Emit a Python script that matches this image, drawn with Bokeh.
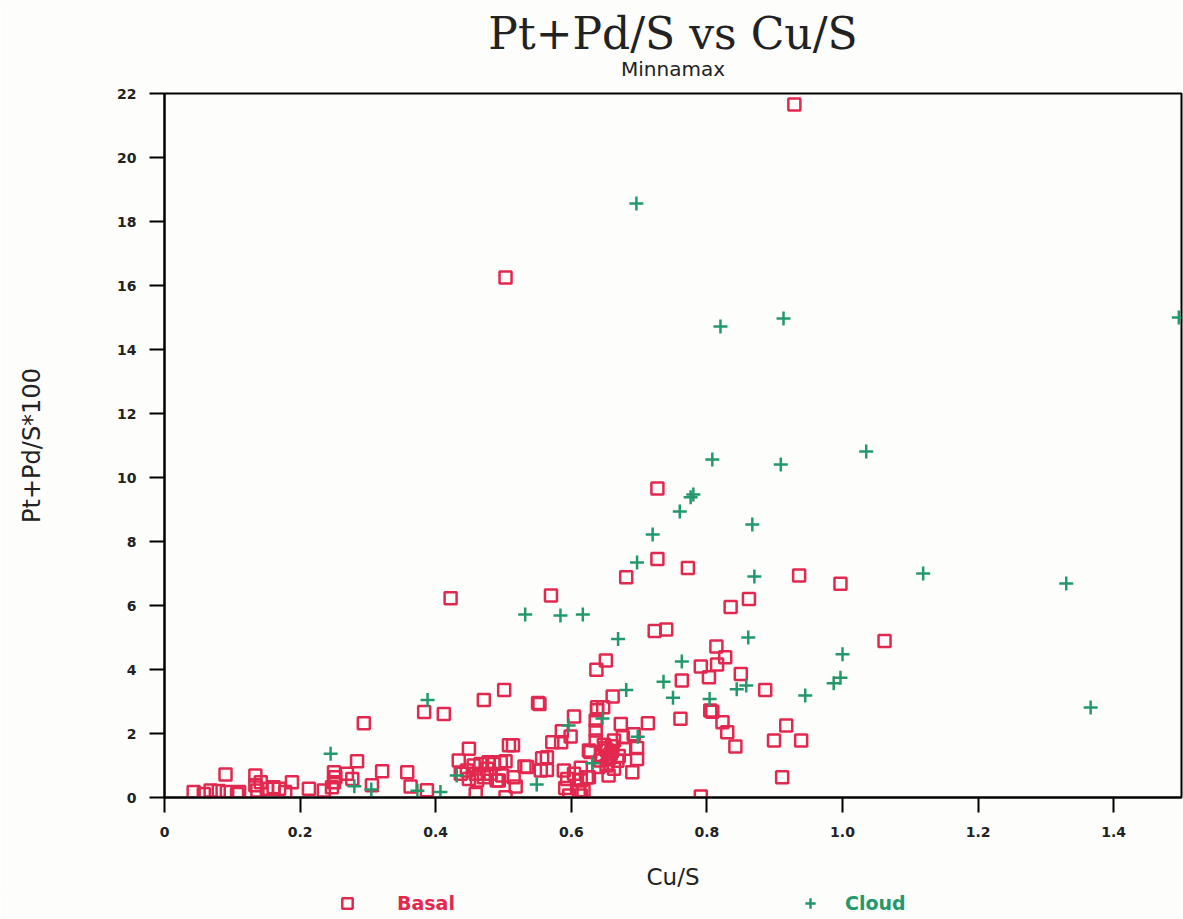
from bokeh.plotting import figure
from bokeh.layouts import column
from bokeh.models import (Title, Legend, LegendItem, CustomJSTickFormatter,
                          FixedTicker, Range1d)
from bokeh.embed import file_html
from bokeh.resources import INLINE

# ---------------- data ----------------
basal_x = [0.929, 0.503, 0.727, 0.727, 0.772, 0.681, 0.936, 0.997, 0.422, 0.570,
           0.862, 0.835, 0.723, 0.740, 1.062,
           0.814, 0.827, 0.815, 0.791, 0.803, 0.763, 0.850, 0.886, 0.651, 0.637,
           0.661, 0.501, 0.471, 0.551, 0.553, 0.383, 0.412, 0.294, 0.638, 0.647,
           0.638, 0.604, 0.636, 0.713, 0.673, 0.761, 0.805, 0.808, 0.823, 0.830,
           0.842, 0.917, 0.899, 0.939, 0.911, 0.791,
           0.586, 0.599, 0.572, 0.585, 0.636, 0.636, 0.676, 0.692, 0.697, 0.697,
           0.690, 0.678, 0.663, 0.655, 0.623, 0.618, 0.626, 0.653, 0.643, 0.663,
           0.658, 0.628, 0.557, 0.564, 0.564, 0.589, 0.594, 0.591, 0.597, 0.614,
           0.614, 0.611, 0.626, 0.604, 0.614, 0.555, 0.535,
           0.645, 0.650, 0.655, 0.660, 0.648, 0.652, 0.668, 0.640, 0.670, 0.660,
           0.514, 0.508, 0.503, 0.531, 0.498, 0.515, 0.518, 0.449, 0.434, 0.456,
           0.449, 0.461, 0.459, 0.476, 0.471, 0.490, 0.503, 0.486, 0.466, 0.478,
           0.496, 0.493, 0.481, 0.459, 0.446, 0.437,
           0.284, 0.321, 0.277, 0.306, 0.358, 0.363, 0.387, 0.250, 0.250, 0.247,
           0.252, 0.269, 0.235, 0.213, 0.188,
           0.043, 0.058, 0.068, 0.080, 0.090, 0.092, 0.107, 0.110, 0.134, 0.134,
           0.142, 0.137, 0.151, 0.161, 0.169, 0.178]
basal_y = [21.66, 16.25, 9.66, 7.45, 7.17, 6.88, 6.94, 6.68, 6.23, 6.31,
           6.20, 5.95, 5.20, 5.25, 4.89,
           4.72, 4.38, 4.16, 4.09, 3.76, 3.66, 3.86, 3.36, 4.28, 3.99,
           3.16, 3.36, 3.05, 2.95, 2.92, 2.67, 2.61, 2.32, 2.82, 2.82,
           2.73, 2.53, 2.41, 2.32, 2.30, 2.46, 2.72, 2.68, 2.35, 2.04,
           1.59, 2.25, 1.78, 1.78, 0.63, 0.03,
           2.07, 1.91, 1.73, 1.73, 2.09, 1.78, 1.88, 1.98, 1.55, 1.20,
           0.79, 1.52, 0.90, 0.69, 0.63, 0.22, 1.47, 1.47, 1.16, 1.78,
           1.36, 1.42, 1.23, 1.26, 0.86, 0.84, 0.58, 0.30, 0.06, 0.93,
           0.53, 0.22, 0.63, 0.74, 0.06, 0.84, 0.95,
           1.30, 1.55, 1.20, 1.45, 1.65, 1.00, 1.15, 0.95, 1.30, 1.60,
           1.63, 1.63, 1.13, 0.97, 0.69, 0.63, 0.34, 1.52, 1.16, 1.00,
           0.58, 0.53, 0.11, 0.90, 0.63, 0.53, 0.01, 1.05, 1.05, 1.10,
           1.10, 0.53, 0.74, 0.74, 0.84, 0.74,
           1.13, 0.82, 0.58, 0.38, 0.79, 0.34, 0.23, 0.79, 0.48, 0.32,
           0.63, 0.74, 0.22, 0.27, 0.48,
           0.17, 0.11, 0.22, 0.20, 0.72, 0.17, 0.11, 0.17, 0.69, 0.38,
           0.48, 0.22, 0.27, 0.32, 0.27, 0.17]

cloud_x = [0.245, 0.280, 0.305, 0.373, 0.388, 0.407, 0.431, 0.532, 0.549, 0.584,
           0.596, 0.617, 0.631, 0.646, 0.669, 0.681, 0.696, 0.697, 0.698, 0.720,
           0.736, 0.750, 0.760, 0.763, 0.776, 0.780, 0.804, 0.808, 0.820, 0.844,
           0.858, 0.861, 0.867, 0.870, 0.909, 0.913, 0.945, 0.987, 0.997, 1.000,
           1.035, 1.119, 1.330, 1.366, 1.496]
cloud_y = [1.37, 0.35, 0.25, 0.21, 3.05, 0.17, 0.69, 5.72, 0.41, 5.69,
           2.25, 5.72, 1.07, 2.47, 4.95, 3.36, 18.56, 7.34, 1.90, 8.22,
           3.62, 3.12, 8.94, 4.25, 9.38, 9.47, 3.08, 10.56, 14.72, 3.38,
           3.50, 5.00, 8.53, 6.91, 10.41, 14.97, 3.19, 3.57, 3.74, 4.48,
           10.81, 7.00, 6.69, 2.81, 15.00]

x_ticks = [0, 0.2, 0.4, 0.6, 0.8, 1.0, 1.2, 1.4]
y_ticks = [0, 2, 4, 6, 8, 10, 12, 14, 16, 18, 20, 22]

RED = "#e2284f"
GREEN = "#23996b"
BG = "#fdfdfb"
INK = "#222222"
SANS = "DejaVu Sans"

# ---------------- main plot ----------------
p = figure(width=1183, height=893, x_range=Range1d(0, 1.5), y_range=Range1d(0, 22),
           output_backend="svg", toolbar_location=None, title=None,
           min_border_left=164, min_border_right=2, min_border_top=93,
           min_border_bottom=96)
p.background_fill_color = BG
p.border_fill_color = BG
p.outline_line_color = "black"
p.outline_line_width = 2
p.xgrid.visible = False
p.ygrid.visible = False

sub = Title(text="Minnamax", align="center", text_font=SANS, text_font_size="20px",
            text_font_style="normal", text_color=INK, standoff=26)
p.add_layout(sub, "above")
main = Title(text="Pt+Pd/S vs Cu/S", align="center", text_font="DejaVu Serif",
             text_font_size="44px", text_font_style="normal", text_color=INK,
             text_line_height=1.25, standoff=-34)
p.add_layout(main, "above")

for ax in (p.xaxis[0], p.yaxis[0]):
    ax.axis_line_color = "black"
    ax.axis_line_width = 2
    ax.major_tick_line_color = "black"
    ax.major_tick_line_width = 2
    ax.major_tick_out = 15
    ax.major_tick_in = 0
    ax.minor_tick_line_color = None
    ax.major_label_text_font = SANS
    ax.major_label_text_font_style = "bold"
    ax.major_label_text_font_size = "14px"
    ax.major_label_text_color = INK
    ax.axis_label_text_font = SANS
    ax.axis_label_text_font_style = "normal"
    ax.axis_label_text_color = INK

p.xaxis[0].ticker = FixedTicker(ticks=x_ticks)
p.xaxis[0].formatter = CustomJSTickFormatter(
    code="return tick == 0 ? '0' : tick.toFixed(1);")
p.xaxis[0].axis_label = "Cu/S"
p.xaxis[0].axis_label_text_font_size = "23px"
p.xaxis[0].major_label_standoff = 14
p.xaxis[0].axis_label_standoff = 24

p.yaxis[0].ticker = FixedTicker(ticks=y_ticks)
p.yaxis[0].axis_label = "Pt+Pd/S*100"
p.yaxis[0].axis_label_text_font_size = "24px"
p.yaxis[0].major_label_standoff = 13
p.yaxis[0].axis_label_standoff = 68

p.scatter(basal_x, basal_y, marker="square", size=12, fill_color=None,
          line_color=RED, line_width=2.5)
p.scatter(cloud_x, cloud_y, marker="cross", size=14,
          line_color=GREEN, line_width=2.5)

# ---------------- legend strip (frame aligned with the plot above) ----------------
lg = figure(width=1183, height=26, x_range=Range1d(-2, -1), y_range=Range1d(-2, -1),
            output_backend="svg", toolbar_location=None, title=None,
            x_axis_location=None, y_axis_location=None,
            min_border_left=0, min_border_right=0, min_border_top=0,
            min_border_bottom=0)
lg.background_fill_color = BG
lg.border_fill_color = BG
lg.outline_line_color = None
lg.xgrid.visible = False
lg.ygrid.visible = False
# same series, out of this strip's view: only their legend glyphs show
k_b = lg.scatter(basal_x, basal_y, marker="square", size=12, fill_color=None,
                 line_color=RED, line_width=2.5)
k_c = lg.scatter(cloud_x, cloud_y, marker="cross", size=14,
                 line_color=GREEN, line_width=2.5)

leg_b = Legend(items=[LegendItem(label="Basal", renderers=[k_b])],
               location=(170, 3), orientation="horizontal",
               glyph_width=26, glyph_height=26, padding=0, margin=0,
               label_standoff=37, label_text_font=SANS, label_text_font_size="19px",
               label_text_font_style="bold", label_text_color=RED,
               background_fill_alpha=0, border_line_color=None)
leg_c = Legend(items=[LegendItem(label="Cloud", renderers=[k_c])],
               location=(633, 3), orientation="horizontal",
               glyph_width=26, glyph_height=26, padding=0, margin=0,
               label_standoff=22, label_text_font=SANS, label_text_font_size="19px",
               label_text_font_style="bold", label_text_color=GREEN,
               background_fill_alpha=0, border_line_color=None)
lg.add_layout(leg_b, "center")
lg.add_layout(leg_c, "center")

open("out.html", "w").write(file_html(column(p, lg, spacing=0), INLINE))
